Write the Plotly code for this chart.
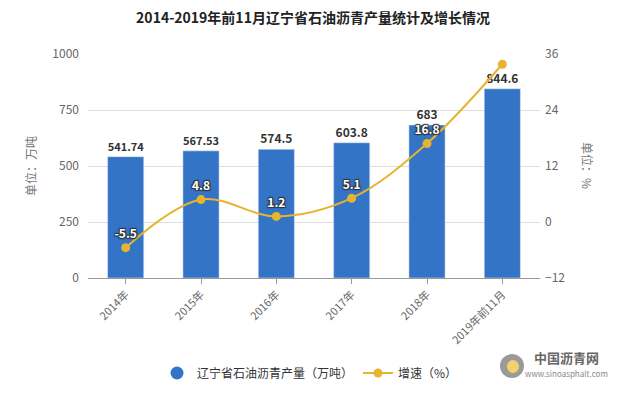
import plotly.graph_objects as go

categories = ["2014年", "2015年", "2016年", "2017年", "2018年", "2019年前11月"]
output = [541.74, 567.53, 574.5, 603.8, 683, 844.6]
output_labels = ["541.74", "567.53", "574.5", "603.8", "683", "844.6"]
growth = [-5.5, 4.8, 1.2, 5.1, 16.8, 33.8]
growth_labels = ["-5.5", "4.8", "1.2", "5.1", "16.8", ""]

FONT = "Noto Sans CJK SC"
BAR = "#3474c6"
LINE = "#e6b42e"

# plot area in window pixels (page has an 8px body offset)
PL, PR, PT, PB = 88, 540, 54, 278
PW, PH = PR - PL, PB - PT


def px(x):
    return (x - PL) / PW


def py(y):
    return (PB - y) / PH


fig = go.Figure()
fig.add_trace(go.Bar(
    x=categories, y=output, name="辽宁省石油沥青产量（万吨）",
    marker=dict(color=BAR), width=0.48, showlegend=False,
    text=output_labels, textposition="outside",
    textfont=dict(size=12, color="#333333", family=FONT, weight="bold"),
    cliponaxis=False,
))
# legend entry with round marker (as in the reference)
fig.add_trace(go.Scatter(
    x=[None], y=[None], mode="markers", name="辽宁省石油沥青产量（万吨）",
    marker=dict(color=BAR, size=13, symbol="circle"),
))
fig.add_trace(go.Scatter(
    x=categories, y=growth, name="增速（%）", yaxis="y2",
    mode="lines+markers+text",
    line=dict(color=LINE, width=2, shape="spline"),
    marker=dict(color=LINE, size=9),
    text=growth_labels, textposition="top center",
    textfont=dict(size=12, color="white", family=FONT, weight="bold",
                  shadow="1px 1px 1px #333, -1px -1px 1px #333, 1px -1px 1px #333, -1px 1px 1px #333"),
    cliponaxis=False,
))

fig.update_layout(
    width=610, height=386,
    margin=dict(l=PL - 8, r=618 - PR, t=PT - 8, b=394 - PB, autoexpand=False),
    paper_bgcolor="white", plot_bgcolor="white",
    font=dict(family=FONT, size=12, color="#666666"),
    title=dict(text="<b>2014-2019年前11月辽宁省石油沥青产量统计及增长情况</b>",
               x=0.5, xanchor="center", y=(386 - 10) / 386, yanchor="middle",
               font=dict(size=14, color="#222222", family=FONT)),
    bargap=0.52,
    xaxis=dict(
        tickangle=-45, showgrid=False, showline=True, linecolor="#999999",
        ticks="outside", ticklen=5, tickcolor="#999999", automargin=False,
        tickfont=dict(size=11, color="#666666"),
    ),
    yaxis=dict(
        range=[0, 1000], tickvals=[0, 250, 500, 750, 1000], automargin=False,
        showgrid=True, gridcolor="#dddddd", zeroline=False, ticklabelstandoff=8,
        tickfont=dict(size=12, color="#666666"),
    ),
    yaxis2=dict(
        overlaying="y", side="right", automargin=False,
        range=[-12, 36], tickvals=[-12, 0, 12, 24, 36],
        showgrid=False, zeroline=False, ticklabelstandoff=4,
        tickfont=dict(size=12, color="#666666"),
    ),
    legend=dict(orientation="h", x=px(310), xanchor="center", y=py(373), yanchor="middle",
                font=dict(size=12, color="#333333"), itemwidth=30),
    shapes=[
        dict(type="circle", xref="paper", yref="paper",
             x0=px(500), x1=px(524), y0=py(378), y1=py(354),
             fillcolor="#9a9a9a", line=dict(width=0)),
        dict(type="circle", xref="paper", yref="paper",
             x0=px(507), x1=px(519), y0=py(373), y1=py(360),
             fillcolor="#f2d36a", line=dict(width=0)),
    ],
    annotations=[
        dict(text="单位：万吨", textangle=-90, xref="paper", yref="paper",
             x=px(30), y=py(166), xanchor="center", showarrow=False,
             font=dict(size=12, color="#777777")),
        dict(text="单位：%", textangle=90, xref="paper", yref="paper",
             x=px(588), y=py(165), xanchor="center", showarrow=False,
             font=dict(size=12, color="#777777")),
        dict(text="<b>中国沥青网</b>", xref="paper", yref="paper",
             x=px(566), y=py(357), xanchor="center", yanchor="middle",
             showarrow=False, font=dict(size=13, color="#666666")),
        dict(text="www.sinoasphalt.com", xref="paper", yref="paper",
             x=px(566), y=py(373), xanchor="center", yanchor="middle",
             showarrow=False, font=dict(size=8, color="#888888")),
    ],
)

fig.write_html("out.html")
